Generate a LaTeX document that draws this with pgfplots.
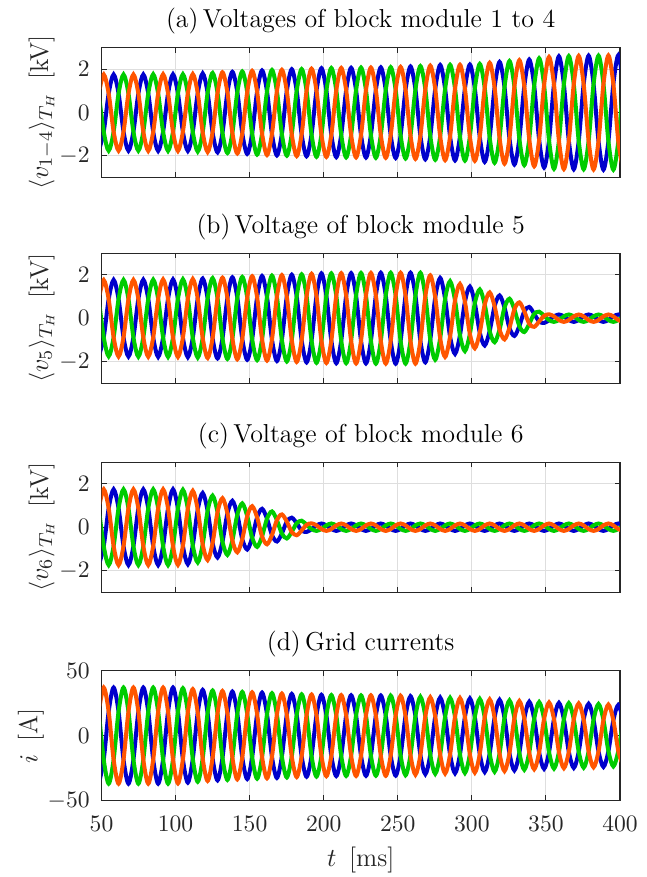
\documentclass[border=0pt]{standalone}
\usepackage{fontspec}
\usepackage{pgfplots}
\usepackage{pgfplotstable}
\pgfplotsset{compat=1.18}

\definecolor{phblue}{RGB}{0,0,204}
\definecolor{phgreen}{RGB}{0,204,0}
\definecolor{phorange}{RGB}{255,85,0}
\definecolor{axgray}{RGB}{38,38,38}
\definecolor{gridgray}{RGB}{222,222,222}

% Sampled three-phase waveforms (orange O, blue B, green G), every 60 degrees.
% a: v_{1-4} [kV], b: v_5 [kV], c: v_6 [kV], d: grid current [A]
\pgfplotstableread{
t aO aB aG bO bB bG cO cB cG dO dB dG
48.16 0.88 -1.76 0.88 0.88 -1.76 0.88 0.875 -1.75 0.875 18.5 -37 18.5
51.50 1.76 -0.88 -0.88 1.76 -0.88 -0.88 1.75 -0.875 -0.875 37 -18.5 -18.5
54.84 0.88 0.88 -1.76 0.88 0.88 -1.76 0.875 0.875 -1.75 18.5 18.5 -37
58.18 -0.88 1.76 -0.88 -0.885 1.77 -0.885 -0.875 1.75 -0.875 -18.5 37 -18.5
61.52 -1.76 0.88 0.88 -1.77 0.885 0.885 -1.75 0.875 0.875 -37 18.5 18.5
64.86 -0.88 -0.88 1.76 -0.885 -0.885 1.77 -0.875 -0.875 1.75 -18.5 -18.5 37
68.20 0.88 -1.76 0.88 0.885 -1.77 0.885 0.875 -1.75 0.875 18.5 -37 18.5
71.54 1.76 -0.88 -0.88 1.77 -0.885 -0.885 1.75 -0.875 -0.875 37 -18.5 -18.5
74.88 0.88 0.88 -1.76 0.89 0.89 -1.78 0.875 0.875 -1.75 18.5 18.5 -37
78.22 -0.88 1.76 -0.88 -0.89 1.78 -0.89 -0.875 1.75 -0.875 -18.5 37 -18.5
81.56 -1.77 0.885 0.885 -1.78 0.89 0.89 -1.75 0.875 0.875 -37 18.5 18.5
84.90 -0.885 -0.885 1.77 -0.89 -0.89 1.78 -0.875 -0.875 1.75 -18.5 -18.5 37
88.24 0.885 -1.77 0.885 0.895 -1.79 0.895 0.875 -1.75 0.875 18.5 -37 18.5
91.58 1.77 -0.885 -0.885 1.79 -0.895 -0.895 1.75 -0.875 -0.875 37 -18.5 -18.5
94.92 0.885 0.885 -1.77 0.895 0.895 -1.79 0.875 0.875 -1.75 18.5 18.5 -37
98.26 -0.885 1.77 -0.885 -0.895 1.79 -0.895 -0.875 1.75 -0.875 -18.5 37 -18.5
101.60 -1.77 0.885 0.885 -1.79 0.895 0.895 -1.74 0.87 0.87 -36.8 18.4 18.4
104.94 -0.885 -0.885 1.77 -0.9 -0.9 1.8 -0.865 -0.865 1.73 -18.25 -18.25 36.5
108.28 0.885 -1.77 0.885 0.9 -1.8 0.9 0.855 -1.71 0.855 18.1 -36.2 18.1
111.62 1.78 -0.89 -0.89 1.81 -0.905 -0.905 1.68 -0.84 -0.84 35.8 -17.9 -17.9
114.96 0.9 0.9 -1.8 0.91 0.91 -1.82 0.815 0.815 -1.63 17.75 17.75 -35.5
118.30 -0.905 1.81 -0.905 -0.915 1.83 -0.915 -0.79 1.58 -0.79 -17.6 35.2 -17.6
121.64 -1.82 0.91 0.91 -1.84 0.92 0.92 -1.52 0.76 0.76 -34.9 17.45 17.45
124.98 -0.915 -0.915 1.83 -0.925 -0.925 1.85 -0.73 -0.73 1.46 -17.35 -17.35 34.7
128.32 0.92 -1.84 0.92 0.93 -1.86 0.93 0.7 -1.4 0.7 17.25 -34.5 17.25
131.66 1.86 -0.93 -0.93 1.87 -0.935 -0.935 1.34 -0.67 -0.67 34.3 -17.15 -17.15
135.00 0.935 0.935 -1.87 0.94 0.94 -1.88 0.64 0.64 -1.28 17.05 17.05 -34.1
138.34 -0.94 1.88 -0.94 -0.945 1.89 -0.945 -0.61 1.22 -0.61 -16.95 33.9 -16.95
141.68 -1.89 0.945 0.945 -1.9 0.95 0.95 -1.16 0.58 0.58 -33.7 16.85 16.85
145.02 -0.95 -0.95 1.9 -0.955 -0.955 1.91 -0.55 -0.55 1.1 -16.8 -16.8 33.6
148.36 0.955 -1.91 0.955 0.96 -1.92 0.96 0.515 -1.03 0.515 16.75 -33.5 16.75
151.70 1.93 -0.965 -0.965 1.94 -0.97 -0.97 0.97 -0.485 -0.485 33.3 -16.65 -16.65
155.04 0.97 0.97 -1.94 0.97 0.97 -1.94 0.455 0.455 -0.91 16.6 16.6 -33.2
158.38 -0.975 1.95 -0.975 -0.975 1.95 -0.975 -0.425 0.85 -0.425 -16.55 33.1 -16.55
161.72 -1.96 0.98 0.98 -1.96 0.98 0.98 -0.79 0.395 0.395 -32.9 16.45 16.45
165.06 -0.985 -0.985 1.97 -0.985 -0.985 1.97 -0.365 -0.365 0.73 -16.35 -16.35 32.7
168.40 0.99 -1.98 0.99 0.99 -1.98 0.99 0.33 -0.66 0.33 16.3 -32.6 16.3
171.74 1.98 -0.99 -0.99 1.99 -0.995 -0.995 0.59 -0.295 -0.295 32.4 -16.2 -16.2
175.08 0.995 0.995 -1.99 1.0 1.0 -2.0 0.26 0.26 -0.52 16.1 16.1 -32.2
178.42 -1.0 2.0 -1.0 -1.005 2.01 -1.005 -0.22 0.44 -0.22 -16.05 32.1 -16.05
181.76 -2.01 1.005 1.005 -2.02 1.01 1.01 -0.37 0.185 0.185 -31.9 15.95 15.95
185.10 -1.005 -1.005 2.01 -1.015 -1.015 2.03 -0.15 -0.15 0.3 -15.9 -15.9 31.8
188.44 1.01 -2.02 1.01 1.02 -2.04 1.02 0.11 -0.22 0.11 15.85 -31.7 15.85
191.78 2.03 -1.015 -1.015 2.05 -1.025 -1.025 0.18 -0.09 -0.09 31.6 -15.8 -15.8
195.12 1.02 1.02 -2.04 1.03 1.03 -2.06 0.085 0.085 -0.17 15.75 15.75 -31.5
198.46 -1.025 2.05 -1.025 -1.035 2.07 -1.035 -0.085 0.17 -0.085 -15.7 31.4 -15.7
201.80 -2.05 1.025 1.025 -2.07 1.035 1.035 -0.17 0.085 0.085 -31.3 15.65 15.65
205.14 -1.03 -1.03 2.06 -1.035 -1.035 2.07 -0.085 -0.085 0.17 -15.6 -15.6 31.2
208.48 1.03 -2.06 1.03 1.04 -2.08 1.04 0.085 -0.17 0.085 15.6 -31.2 15.6
211.82 2.06 -1.03 -1.03 2.08 -1.04 -1.04 0.17 -0.085 -0.085 31.2 -15.6 -15.6
215.16 1.035 1.035 -2.07 1.04 1.04 -2.08 0.085 0.085 -0.17 15.55 15.55 -31.1
218.50 -1.035 2.07 -1.035 -1.04 2.08 -1.04 -0.085 0.17 -0.085 -15.55 31.1 -15.55
221.84 -2.07 1.035 1.035 -2.09 1.045 1.045 -0.17 0.085 0.085 -31.1 15.55 15.55
225.18 -1.04 -1.04 2.08 -1.045 -1.045 2.09 -0.085 -0.085 0.17 -15.5 -15.5 31
228.52 1.04 -2.08 1.04 1.045 -2.09 1.045 0.085 -0.17 0.085 15.5 -31 15.5
231.86 2.08 -1.04 -1.04 2.09 -1.045 -1.045 0.17 -0.085 -0.085 31 -15.5 -15.5
235.20 1.045 1.045 -2.09 1.05 1.05 -2.1 0.085 0.085 -0.17 15.45 15.45 -30.9
238.54 -1.045 2.09 -1.045 -1.05 2.1 -1.05 -0.085 0.17 -0.085 -15.45 30.9 -15.45
241.88 -2.09 1.045 1.045 -2.1 1.05 1.05 -0.17 0.085 0.085 -30.9 15.45 15.45
245.22 -1.05 -1.05 2.1 -1.05 -1.05 2.1 -0.085 -0.085 0.17 -15.4 -15.4 30.8
248.56 1.05 -2.1 1.05 1.05 -2.1 1.05 0.085 -0.17 0.085 15.4 -30.8 15.4
251.90 2.11 -1.055 -1.055 2.1 -1.05 -1.05 0.17 -0.085 -0.085 30.7 -15.35 -15.35
255.24 1.06 1.06 -2.12 1.05 1.05 -2.1 0.085 0.085 -0.17 15.25 15.25 -30.5
258.58 -1.065 2.13 -1.065 -1.05 2.1 -1.05 -0.085 0.17 -0.085 -15.15 30.3 -15.15
261.92 -2.14 1.07 1.07 -2.1 1.05 1.05 -0.17 0.085 0.085 -30.1 15.05 15.05
265.26 -1.075 -1.075 2.15 -1.05 -1.05 2.1 -0.085 -0.085 0.17 -14.95 -14.95 29.9
268.60 1.08 -2.16 1.08 1.02 -2.04 1.02 0.085 -0.17 0.085 14.85 -29.7 14.85
271.94 2.17 -1.085 -1.085 1.98 -0.99 -0.99 0.17 -0.085 -0.085 29.5 -14.75 -14.75
275.28 1.09 1.09 -2.18 0.96 0.96 -1.92 0.085 0.085 -0.17 14.7 14.7 -29.4
278.62 -1.1 2.2 -1.1 -0.93 1.86 -0.93 -0.085 0.17 -0.085 -14.65 29.3 -14.65
281.96 -2.2 1.1 1.1 -1.79 0.895 0.895 -0.17 0.085 0.085 -29.2 14.6 14.6
285.30 -1.105 -1.105 2.21 -0.855 -0.855 1.71 -0.085 -0.085 0.17 -14.55 -14.55 29.1
288.64 1.105 -2.21 1.105 0.825 -1.65 0.825 0.085 -0.17 0.085 14.5 -29 14.5
291.98 2.21 -1.105 -1.105 1.58 -0.79 -0.79 0.17 -0.085 -0.085 28.9 -14.45 -14.45
295.32 1.11 1.11 -2.22 0.76 0.76 -1.52 0.085 0.085 -0.17 14.4 14.4 -28.8
298.66 -1.11 2.22 -1.11 -0.73 1.46 -0.73 -0.085 0.17 -0.085 -14.3 28.6 -14.3
302.00 -2.23 1.115 1.115 -1.39 0.695 0.695 -0.17 0.085 0.085 -28.5 14.25 14.25
305.34 -1.125 -1.125 2.25 -0.665 -0.665 1.33 -0.085 -0.085 0.17 -14.15 -14.15 28.3
308.68 1.14 -2.28 1.14 0.63 -1.26 0.63 0.085 -0.17 0.085 14.05 -28.1 14.05
312.02 2.3 -1.15 -1.15 1.19 -0.595 -0.595 0.17 -0.085 -0.085 27.9 -13.95 -13.95
315.36 1.16 1.16 -2.32 0.555 0.555 -1.11 0.085 0.085 -0.17 13.9 13.9 -27.8
318.70 -1.17 2.34 -1.17 -0.525 1.05 -0.525 -0.085 0.17 -0.085 -13.8 27.6 -13.8
322.04 -2.36 1.18 1.18 -0.98 0.49 0.49 -0.17 0.085 0.085 -27.3 13.65 13.65
325.38 -1.19 -1.19 2.38 -0.45 -0.45 0.9 -0.085 -0.085 0.17 -13.55 -13.55 27.1
328.72 1.2 -2.4 1.2 0.41 -0.82 0.41 0.085 -0.17 0.085 13.4 -26.8 13.4
332.06 2.42 -1.21 -1.21 0.73 -0.365 -0.365 0.17 -0.085 -0.085 26.6 -13.3 -13.3
335.40 1.215 1.215 -2.43 0.32 0.32 -0.64 0.085 0.085 -0.17 13.15 13.15 -26.3
338.74 -1.225 2.45 -1.225 -0.26 0.52 -0.26 -0.085 0.17 -0.085 -13.05 26.1 -13.05
342.08 -2.48 1.24 1.24 -0.4 0.2 0.2 -0.17 0.085 0.085 -25.9 12.95 12.95
345.42 -1.255 -1.255 2.51 -0.15 -0.15 0.3 -0.085 -0.085 0.17 -12.9 -12.9 25.8
348.76 1.27 -2.54 1.27 0.11 -0.22 0.11 0.085 -0.17 0.085 12.8 -25.6 12.8
352.10 2.57 -1.285 -1.285 0.18 -0.09 -0.09 0.17 -0.085 -0.085 25.5 -12.75 -12.75
355.44 1.3 1.3 -2.6 0.085 0.085 -0.17 0.085 0.085 -0.17 12.7 12.7 -25.4
358.78 -1.3 2.6 -1.3 -0.085 0.17 -0.085 -0.085 0.17 -0.085 -12.6 25.2 -12.6
362.12 -2.61 1.305 1.305 -0.17 0.085 0.085 -0.17 0.085 0.085 -25.1 12.55 12.55
365.46 -1.305 -1.305 2.61 -0.085 -0.085 0.17 -0.085 -0.085 0.17 -12.5 -12.5 25
368.80 1.31 -2.62 1.31 0.085 -0.17 0.085 0.085 -0.17 0.085 12.45 -24.9 12.45
372.14 2.62 -1.31 -1.31 0.17 -0.085 -0.085 0.17 -0.085 -0.085 24.8 -12.4 -12.4
375.48 1.31 1.31 -2.62 0.085 0.085 -0.17 0.085 0.085 -0.17 12.35 12.35 -24.7
378.82 -1.315 2.63 -1.315 -0.085 0.17 -0.085 -0.085 0.17 -0.085 -12.25 24.5 -12.25
382.16 -2.63 1.315 1.315 -0.17 0.085 0.085 -0.17 0.085 0.085 -24.4 12.2 12.2
385.50 -1.315 -1.315 2.63 -0.085 -0.085 0.17 -0.085 -0.085 0.17 -12.15 -12.15 24.3
388.84 1.32 -2.64 1.32 0.085 -0.17 0.085 0.085 -0.17 0.085 12.05 -24.1 12.05
392.18 2.64 -1.32 -1.32 0.17 -0.085 -0.085 0.17 -0.085 -0.085 23.9 -11.95 -11.95
395.52 1.32 1.32 -2.64 0.085 0.085 -0.17 0.085 0.085 -0.17 11.85 11.85 -23.7
398.86 -1.325 2.65 -1.325 -0.085 0.17 -0.085 -0.085 0.17 -0.085 -11.8 23.6 -11.8
402.20 -2.65 1.325 1.325 -0.17 0.085 0.085 -0.17 0.085 0.085 -23.4 11.7 11.7
}\wavedata

\pgfplotsset{
  panel/.style={
    scale only axis, width=219.70pt, height=55.0pt,
    anchor=north west,
    xmin=50, xmax=400, xtick={50,100,...,400},
    grid=major,
    major grid style={draw=gridgray, line width=0.4pt},
    axis line style={draw=axgray, line width=0.45pt},
    every tick/.style={draw=axgray, line width=0.45pt},
    tick align=inside, major tick length=2.2pt,
    tick label style={font=\fontsize{10}{12}\selectfont, text=axgray},
    yticklabel style={xshift=-1.5pt},
    xticklabel style={yshift=-3.3pt},
    title style={font=\fontsize{11}{13}\selectfont, at={(0.5,1)}, anchor=base, yshift=2.5pt},
    label style={font=\fontsize{11}{13}\selectfont, text=axgray},
    ylabel style={at={(axis description cs:-0.1157,0.5)}, anchor=center},
    every axis plot/.append style={line width=1.7pt, smooth, tension=0.5},
  },
  kvpanel/.style={panel, ymin=-3, ymax=3, ytick={-2,0,2}, xticklabels={}},
}

\begin{document}
\begin{tikzpicture}
\path[use as bounding box] (0pt,0pt) rectangle (273.73pt,-371.61pt);

\begin{axis}[kvpanel, at={(43.01pt,-20.21pt)},
  title={(a)\,Voltages of block module 1 to 4},
  ylabel={$\langle v_{1-4}\rangle_{T_H}$~\,[kV]}]
\addplot[phblue] table[x=t,y=aB]{\wavedata};
\addplot[phgreen] table[x=t,y=aG]{\wavedata};
\addplot[phorange] table[x=t,y=aO]{\wavedata};
\end{axis}

\begin{axis}[kvpanel, at={(43.01pt,-107.33pt)},
  title={(b)\,Voltage of block module 5},
  ylabel={$\langle v_{5}\rangle_{T_H}$~\,[kV]}]
\addplot[phblue] table[x=t,y=bB]{\wavedata};
\addplot[phgreen] table[x=t,y=bG]{\wavedata};
\addplot[phorange] table[x=t,y=bO]{\wavedata};
\end{axis}

\begin{axis}[kvpanel, at={(43.01pt,-195.89pt)},
  title={(c)\,Voltage of block module 6},
  ylabel={$\langle v_{6}\rangle_{T_H}$~\,[kV]}]
\addplot[phblue] table[x=t,y=cB]{\wavedata};
\addplot[phgreen] table[x=t,y=cG]{\wavedata};
\addplot[phorange] table[x=t,y=cO]{\wavedata};
\end{axis}

\begin{axis}[panel, at={(43.01pt,-284.19pt)},
  ymin=-50, ymax=50, ytick={-50,0,50},
  title={(d)\,Grid currents},
  ylabel={$i$~\,[A]},
  ylabel style={at={(axis description cs:-0.1364,0.5)}},
  xlabel={$t$~\,[ms]},
  xlabel style={at={(axis description cs:0.5,0)}, anchor=base, yshift=-27.9pt}]
\addplot[phblue] table[x=t,y=dB]{\wavedata};
\addplot[phgreen] table[x=t,y=dG]{\wavedata};
\addplot[phorange] table[x=t,y=dO]{\wavedata};
\end{axis}
\end{tikzpicture}
\end{document}
